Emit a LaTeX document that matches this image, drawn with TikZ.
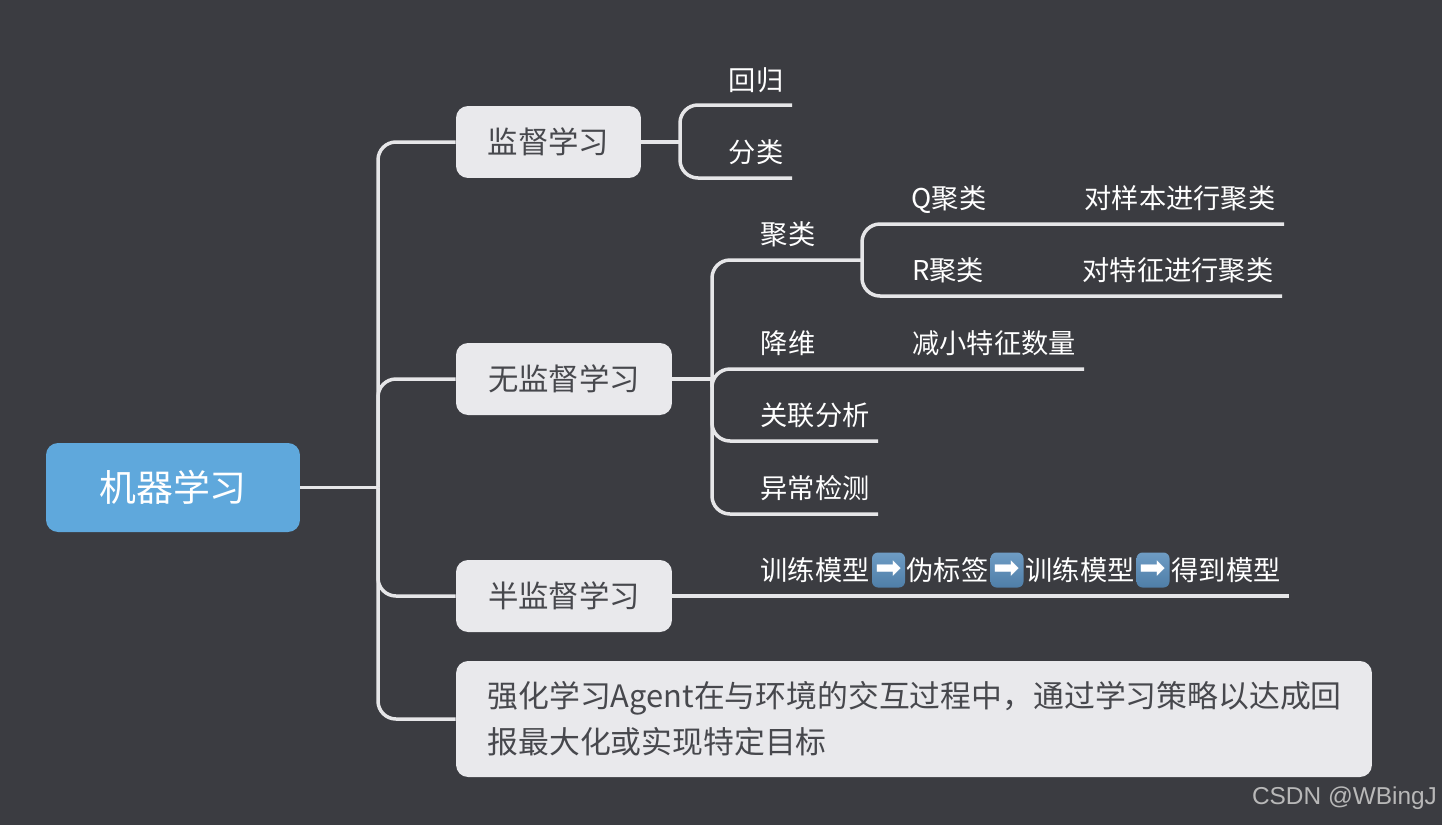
\documentclass[tikz,border=0pt]{standalone}
\usepackage{fontspec}
\setmainfont{Noto Sans CJK SC}
\newfontfamily\symfont{DejaVu Sans}
\newfontfamily\markfont{Liberation Sans}
\usetikzlibrary{positioning}
\definecolor{bgc}{HTML}{3B3C41}
\definecolor{boxc}{HTML}{E9E9EC}
\definecolor{inkc}{HTML}{47484D}
\definecolor{wirec}{HTML}{E6E6E8}
\definecolor{rootc}{HTML}{5FA8DC}
\definecolor{keytop}{HTML}{6E9CC4}
\definecolor{keybot}{HTML}{4F7EA8}

\begin{document}
\begin{tikzpicture}[
    x=0.02cm, y=-0.02cm,
    box/.style={fill=boxc, text=inkc, rounded corners=0.24cm, inner sep=0pt, minimum height=1.44cm,
      font=\fontsize{17.3}{20}\selectfont},
    rootbox/.style={box, fill=rootc, text=white, minimum width=5.08cm, minimum height=1.78cm,
      font=\fontsize{21}{25}\selectfont},
    lbl/.style={text=white, inner sep=0pt, font=\fontsize{15.5}{18}\selectfont},
    key/.style={text=white, top color=keytop, bottom color=keybot, rounded corners=0.12cm, inner sep=0pt,
      minimum width=0.66cm, minimum height=0.7cm, font=\symfont\fontsize{18}{18}\selectfont},
    wire/.style={draw=wirec, line width=0.07cm, rounded corners=0.36cm},
  ]
  \fill[bgc] (0,0) rectangle (1442,825);
  \useasboundingbox (0,0) rectangle (1442,825);

  % ---------------- boxes
  \node[rootbox] (root) at (173,487.5) {机器学习};
  \node[box, minimum width=3.7cm] (sup) at (548.5,142) {监督学习};
  \node[box, minimum width=4.32cm] (unsup) at (564,379) {无监督学习};
  \node[box, minimum width=4.32cm] (semi) at (564,596) {半监督学习};
  \node[box, minimum width=18.32cm, minimum height=2.32cm, align=left, text width=17.06cm,
        font=\fontsize{17.55}{26}\selectfont] (rein) at (914,719)
       {强化学习Agent在与环境的交互过程中，通过学习策略以达成回\\报最大化或实现特定目标};

  % ---------------- labels
  \node[lbl] (reg) at (756,80) {回归};
  \node[lbl] (cls) at (756,152) {分类};
  \node[lbl] (clu) at (788,234) {聚类};
  \node[lbl] (qclu) at (949,199.5) {Q聚类};
  \node[lbl] (qtxt) at (1180,198) {对样本进行聚类};
  \node[lbl] (rclu) at (948,270) {R聚类};
  \node[lbl] (rtxt) at (1178,270) {对特征进行聚类};
  \node[lbl] (dim) at (788,343) {降维};
  \node[lbl] (dimtxt) at (994,343) {减小特征数量};
  \node[lbl] (assoc) at (815,415) {关联分析};
  \node[lbl] (anom) at (815,488) {异常检测};

  % ---------------- semi-supervised chain
  \node[lbl] (train) at (815,570) {训练模型};
  \node[key] (keya) at (888.5,570) {➡};
  \node[lbl] (pseudo) at (947.5,570) {伪标签};
  \node[key] (keyb) at (1007,570) {➡};
  \node[lbl] (retrain) at (1080,570) {训练模型};
  \node[key] (keyc) at (1153,570) {➡};
  \node[lbl] (result) at (1226,570) {得到模型};

  % ---------------- watermark
  \node[text=black!28, inner sep=0pt, font=\markfont\fontsize{13.9}{16}\selectfont] (mark) at (1344.5,798) {CSDN @WBingJ};

  % ---------------- junctions and line ends
  \coordinate (trunk) at (378,487.5);
  \coordinate (supj) at (680,142);
  \coordinate (unsupj) at (712,379);
  \coordinate (cluj) at (862,260);
  \coordinate (regend) at (792,105);
  \coordinate (clsend) at (792,178);
  \coordinate (cluend) at (cluj);
  \coordinate (qend) at (1284,224);
  \coordinate (rend) at (1282,296);
  \coordinate (dimend) at (1084,369);
  \coordinate (assocend) at (878,441);
  \coordinate (anomend) at (878,514);
  \coordinate (semiend) at (1289,596);

  % ---------------- wiring
  \draw[wire] (root.east) -- (trunk);
  \foreach \b in {sup,unsup,semi,rein} { \draw[wire] (trunk) |- (\b.west); }

  \draw[wire] (sup.east) -- (supj);
  \foreach \e in {regend,clsend} { \draw[wire] (supj) |- (\e); }

  \draw[wire] (unsup.east) -- (unsupj);
  \foreach \e in {cluend,dimend,assocend,anomend} { \draw[wire] (unsupj) |- (\e); }
  \foreach \e in {qend,rend} { \draw[wire] (cluj) |- (\e); }

  \draw[wire] (semi.east) -- (semiend);
\end{tikzpicture}
\end{document}
